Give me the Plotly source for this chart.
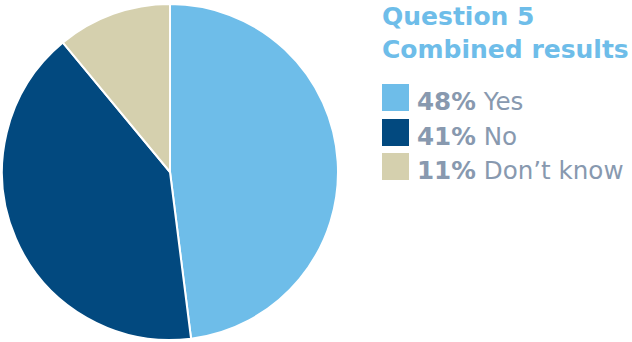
import plotly.graph_objects as go

# Survey answers and their shares (percent)
labels = ["Yes", "No", "Don\u2019t know"]
values = [48, 41, 11]
colors = ["#6EBDE9", "#02497F", "#D5D0AE"]
title_lines = ["Question 5", "Combined results"]

W, H = 632, 342
fig = go.Figure()

fig.add_trace(go.Pie(
    labels=labels,
    values=values,
    sort=False,
    direction="clockwise",
    rotation=0,
    marker=dict(colors=colors, line=dict(color="white", width=2)),
    textinfo="none",
    hoverinfo="label+percent",
    showlegend=False,
    domain=dict(x=[2 / W, 338 / W], y=[1 - 340 / H, 1 - 4 / H]),
))

def px(x):
    return x / W

def py(y):
    return 1 - y / H

FONT = "DejaVu Sans"
TEXT_GRAY = "#8899AF"

# Title block
fig.add_annotation(
    x=px(380), y=py(33), xref="paper", yref="paper",
    xanchor="left", yanchor="middle", align="left", showarrow=False,
    text="<b>" + "<br>".join(title_lines) + "</b>",
    font=dict(family=FONT, size=25, color="#6EBDE9"),
)

# Legend: coloured squares plus bold share and label
rows_top = [84, 119, 153]
for lab, val, col, top in zip(labels, values, colors, rows_top):
    fig.add_shape(
        type="rect", xref="paper", yref="paper",
        x0=px(382), x1=px(409), y0=py(top + 27), y1=py(top),
        fillcolor=col, line=dict(width=0),
    )
    fig.add_annotation(
        x=px(415), y=py(top + 17.5), xref="paper", yref="paper",
        xanchor="left", yanchor="middle", showarrow=False,
        text=f"<b>{val}%</b> {lab}",
        font=dict(family=FONT, size=24.6, color=TEXT_GRAY),
    )

fig.update_layout(
    width=W, height=H,
    margin=dict(l=0, r=0, t=0, b=0),
    paper_bgcolor="white",
    plot_bgcolor="white",
)

fig.write_html("out.html")
